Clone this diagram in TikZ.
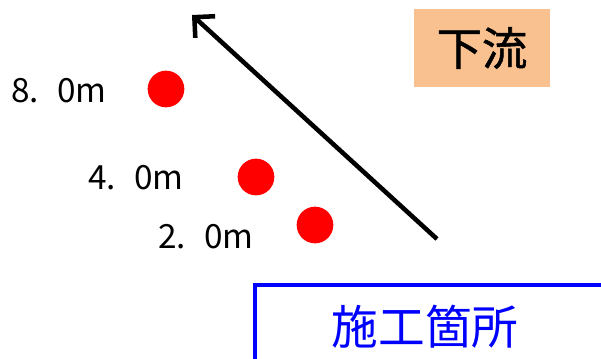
\documentclass[tikz,border=0pt]{standalone}
\usepackage{fontspec}
\setmainfont{Noto Sans CJK JP}
\newfontfamily\jpbold[FakeBold=1.2]{Noto Sans CJK JP}
\usetikzlibrary{arrows.meta}
\definecolor{peach}{HTML}{FAC190}
\tikzset{
  dot/.style={circle,fill=red,minimum size=27.5pt,inner sep=0pt},
  dist/.style={font=\fontsize{25}{25}\selectfont,anchor=west,inner sep=0pt},
  flow/.style={line width=3.4pt,-{Straight Barb[length=11pt,width=22pt,line width=3.4pt]}},
}
\newcommand{\dgap}{\hspace*{0.55em}}
\begin{document}
\begin{tikzpicture}[x=0.75pt,y=-0.75pt]
\clip (0,0) rectangle (601,358);
\fill[white] (0,0) rectangle (601,358);
\node[dot] (d8) at (166,89) {};
\node[dot] (d4) at (256,177) {};
\node[dot] (d2) at (315,225) {};
\node[dist] (l8) at (11,91) {8.\dgap{}0m};
\node[dist] (l4) at (88,178) {4.\dgap{}0m};
\node[dist] (l2) at (158,237) {2.\dgap{}0m};
\coordinate (tail) at (437,239);
\coordinate (tip) at (192,15);
\draw[flow] (tail) -- (tip);
\node[fill=peach,minimum width=102pt,minimum height=58.5pt,inner sep=0pt,font=\jpbold\fontsize{34}{34}\selectfont] (down) at (482,48) {下流};
\draw[blue,line width=2.5pt] (630,285) -- (255,285) -- (255,380);
\node[text=blue,font=\fontsize{35}{35}\selectfont] (site) at (425,327) {施工箇所};
\end{tikzpicture}
\end{document}
